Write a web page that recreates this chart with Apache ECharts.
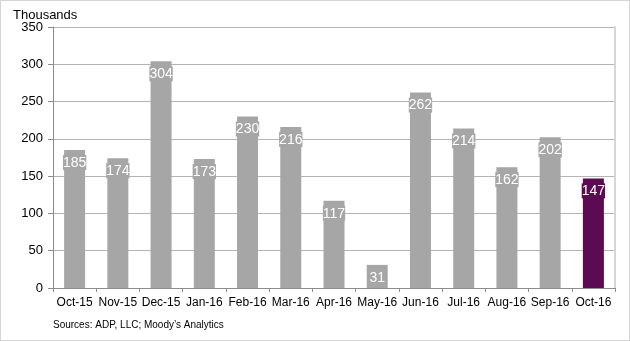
<!DOCTYPE html>
<html><head><meta charset="utf-8">
<script src="https://cdn.jsdelivr.net/npm/echarts@6/dist/echarts.min.js"></script>
<style>html,body{margin:0;padding:0;background:#fff}#c{width:630px;height:341px;box-sizing:border-box;border:1px solid #d4d4d4}</style>
</head><body><div id="c"></div>
<script>
const categories = ['Oct-15','Nov-15','Dec-15','Jan-16','Feb-16','Mar-16','Apr-16','May-16','Jun-16','Jul-16','Aug-16','Sep-16','Oct-16'];
const values = [185,174,304,173,230,216,117,31,262,214,162,202,147];
const yTicks = [0,50,100,150,200,250,300,350];
const highlightIndex = 12;

const gray = '#a6a6a6', purple = '#5c0a52';
const chart = echarts.init(document.getElementById('c'), null, {renderer:'canvas'});
const font = 'Liberation Sans, Arial, sans-serif';
chart.setOption({
  animation:false,
  grid:{left:52, right:14, top:26, bottom:52, containLabel:false},
  title:{text:'Thousands', left:7, top:3, textStyle:{fontFamily:font, fontSize:13, fontWeight:'normal', color:'#000'}},
  graphic:[{type:'text', left:52, top:319, style:{text:'Sources: ADP, LLC; Moody\u2019s Analytics', font:'10px '+font, fill:'#000'}}],
  xAxis:{type:'category', data:categories,
    axisLine:{lineStyle:{color:'#8c8c8c'}},
    axisTick:{show:true, length:4, lineStyle:{color:'#8c8c8c'}},
    axisLabel:{fontFamily:font, fontSize:12, color:'#000', margin:9, interval:0}},
  yAxis:[{type:'value', min:yTicks[0], max:yTicks[yTicks.length-1], interval:50,
    axisLine:{show:true, lineStyle:{color:'#8c8c8c'}},
    axisTick:{show:true, length:5, lineStyle:{color:'#8c8c8c'}},
    axisLabel:{fontFamily:font, fontSize:13, color:'#000', margin:10},
    splitLine:{lineStyle:{color:'#b4b4b4'}}},
    {type:'value', position:'right', min:0, max:350, interval:50,
    axisLine:{show:true, lineStyle:{color:'#d6d6d6', width:2}},
    axisTick:{show:false}, axisLabel:{show:false}, splitLine:{show:false}}],
  series:[{type:'bar', barWidth:21,
    data: values.map((v,i)=> i===highlightIndex ? {value:v, itemStyle:{color:purple}, label:{backgroundColor:purple}} : v),
    itemStyle:{color:gray},
    label:{show:true, position:'insideTop', distance:5, color:'#fff', fontFamily:font, fontSize:14,
      backgroundColor:gray, padding:[1,0,0,0], borderRadius:0}
  }]
});
</script></body></html>
